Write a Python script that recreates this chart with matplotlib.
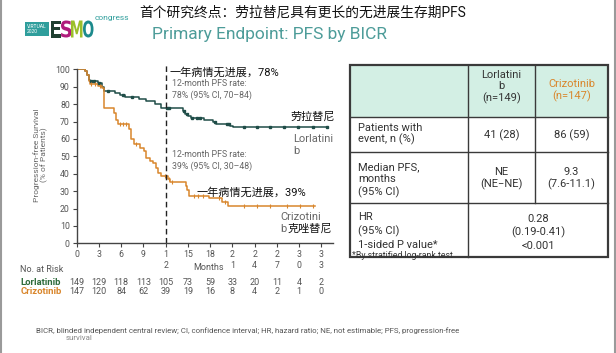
import numpy as np
import matplotlib
matplotlib.use('Agg')
import matplotlib.pyplot as plt
from matplotlib.patches import Rectangle, PathPatch
from matplotlib.transforms import blended_transform_factory, Affine2D
from matplotlib.textpath import TextPath
from matplotlib.font_manager import FontProperties

plt.rcParams['font.family'] = ['Roboto', 'Noto Sans CJK SC', 'DejaVu Sans']

W, H = 616, 353

# ---------------- data ----------------
lor_t = [0, 1.1, 1.35, 1.6, 1.8, 2.9, 3.4, 3.7, 5.2, 5.8, 6.5, 8.4, 9.3, 10.6, 11.4,
         13.2, 14.3, 14.6, 15.0, 15.4, 17.2, 18.4, 18.8, 20.7, 21.1]
lor_s = [100, 99, 97, 94, 93, 92, 90, 87.5, 86.5, 85.5, 84, 83, 82, 80, 78,
         77.5, 76, 74.5, 73, 72, 71, 69.5, 68.5, 67.5, 66.7]
lor_end = 33.8
lor_cens = [1.9, 2.3, 3.0, 4.2, 6.2, 7.4, 12.2, 12.5, 14.4, 14.9, 15.6, 16.2, 16.6,
            18.6, 20.3, 20.5, 22.5, 24.3, 26.1, 27.9, 29.9, 31.9, 33.7]

criz_t = [0, 1.1, 1.35, 1.6, 1.8, 2.9, 3.4, 3.7, 5.0, 5.3, 5.6, 7.1, 7.3, 7.7, 8.6,
          9.1, 9.4, 9.9, 10.3, 10.7, 11.0, 11.4, 12.3, 12.6, 14.7, 14.9, 15.2, 17.8,
          19.6, 20.4]
criz_s = [100, 99, 97, 93, 91.5, 90.5, 89.5, 78, 75, 71, 68.5, 65.5, 60, 57, 55,
          53, 49, 47.5, 46, 43.5, 40.5, 38.5, 37, 35, 33, 30.5, 27.5, 26,
          24, 21.5]
criz_end = 32.1
criz_cens = [1.9, 2.5, 3.2, 5.8, 6.3, 6.7, 8.0, 11.9, 12.4, 12.8, 15.8, 16.3, 17.0,
             19.2, 20.0, 22.5, 24.3, 26.1, 28.3, 30.1, 31.9]

xticks = [0, 3, 6, 9, 12, 15, 18, 21, 24, 27, 30, 33]
xtick_labels = ['0', '3', '6', '9', '1\n2', '15', '18', '2\n1', '2\n4', '2\n7', '3\n0', '3\n3']
yticks = [0, 10, 20, 30, 40, 50, 60, 70, 80, 90, 100]

risk_lor = [149, 129, 118, 113, 105, 73, 59, 33, 20, 11, 4, 2]
risk_criz = [147, 120, 84, 62, 39, 19, 16, 8, 4, 2, 1, 0]

tbl_header = ['', 'Lorlatini\nb\n(n=149)', 'Crizotinib\n(n=147)']
tbl_row_labels = ['Patients with\nevent, n (%)', 'Median PFS,\nmonths\n(95% CI)',
                  'HR\n(95% CI)\n1-sided P value*']
tbl_lor = ['41 (28)', 'NE\n(NE\u2212NE)']
tbl_criz = ['86 (59)', '9.3\n(7.6-11.1)']
tbl_hr = '0.28\n(0.19-0.41)\n<0.001'

TEAL = '#1f4d48'
ORANGE = '#d9862c'
GRAY = '#666666'

def step_at(t, s, x):
    i = np.searchsorted(t, x, side='right') - 1
    return np.asarray(s)[i]

fig = plt.figure(figsize=(W / 100, H / 100), dpi=100)
fig.patch.set_facecolor('white')

# ---------------- KM axes ----------------
x0, x1, yb, yt = 76.7, 332.6, 243.4, 69.3
ax = fig.add_axes([x0 / W, 1 - yb / H, (x1 - x0) / W, (yb - yt) / H])
ax.set_xlim(0, 34.5)
ax.set_ylim(0, 100)
for sp in ['top', 'right']:
    ax.spines[sp].set_visible(False)
for sp in ['left', 'bottom']:
    ax.spines[sp].set_color('#444444')
    ax.spines[sp].set_linewidth(1.0)
ax.set_xticks(xticks)
ax.set_xticklabels(xtick_labels, linespacing=1.25)
ax.set_yticks(yticks)
ax.tick_params(axis='both', labelsize=6.3, labelcolor='#555555', color='#444444',
               length=3, width=0.8, pad=2)
for lbl in ax.get_xticklabels():
    lbl.set_verticalalignment('top')

ax.step(lor_t + [lor_end], lor_s + [lor_s[-1]], where='post', color=TEAL, lw=1.1)
ax.step(criz_t + [criz_end], criz_s + [criz_s[-1]], where='post', color=ORANGE, lw=1.1)
ax.plot(lor_cens, step_at(lor_t, lor_s, lor_cens), ls='none', marker='s', ms=1.7,
        color=TEAL, clip_on=False)
ax.plot(criz_cens, step_at(criz_t, criz_s, criz_cens), ls='none', marker='|', ms=3.5,
        mew=0.8, color=ORANGE, clip_on=False)
ax.plot([12, 12], [0, 102.5], ls=(0, (4, 2.5)), color='#222222', lw=1.0, clip_on=False)

# at-risk numbers
tr = blended_transform_factory(ax.transData, fig.transFigure)
for x, a, b in zip(xticks, risk_lor, risk_criz):
    ax.text(x, 1 - 282.5 / H, str(a), transform=tr, ha='center', va='center',
            fontsize=6.5, color='#555555')
    ax.text(x, 1 - 292.0 / H, str(b), transform=tr, ha='center', va='center',
            fontsize=6.5, color='#555555')

# ---------------- overlay (pixel coords) ----------------
ov = fig.add_axes([0, 0, 1, 1])
ov.set_xlim(0, W)
ov.set_ylim(H, 0)
ov.axis('off')
ov.patch.set_alpha(0)

# frame lines
ov.plot([1.2, 1.2], [0, H], color='#9a9a9a', lw=1.5)
ov.plot([614.5, 614.5], [0, H], color='#9a9a9a', lw=1.5)

# logo
ov.add_patch(Rectangle((25, 22), 24, 13.5, color='#2f9e9c', lw=0))
ov.text(26.5, 28.8, 'VIRTUAL\n2020', fontsize=3.6, color='white', va='center', ha='left',
        linespacing=1.0)
fp = FontProperties(family='DejaVu Sans', weight='bold')
for ch, lx, col in [('E', 50.5, '#1f3f30'), ('S', 61, '#b01c7c'), ('M', 71, '#9bbf2a'),
                    ('O', 83, '#1c8a8c')]:
    tp = TextPath((0, 0), ch, size=1, prop=fp)
    ext = tp.get_extents()
    tw = 10.5 if ch != 'M' else 11.5
    sx = tw / ext.width
    sy = 17.0 / ext.height
    trf = Affine2D().translate(-ext.x0, -ext.y0).scale(sx, -sy).translate(lx, 37.5)
    ov.add_patch(PathPatch(trf.transform_path(tp), color=col, lw=0))
ov.text(95, 18, 'congress', fontsize=6, color='#2f9e9c', va='center', ha='left')

# titles
ov.text(139, 12, '首个研究终点：劳拉替尼具有更长的无进展生存期PFS', fontsize=9.9,
        color='#111111', va='center', ha='left')
ov.text(152, 34, 'Primary Endpoint: PFS by BICR', fontsize=12.5, color='#4d9c99',
        va='center', ha='left')

# y label
ov.text(40.5, 155, 'Progression-free Survival\n(% of Patients)', rotation=90,
        fontsize=6, color=GRAY, ha='center', va='center', linespacing=1.1)

# annotations on the KM plot
ov.text(170, 72, '一年病情无进展，78%', fontsize=8, color='#111111', va='center')
ov.text(172, 89.5, '12-month PFS rate:\n78% (95% CI, 70\u201384)', fontsize=6.3,
        color=GRAY, va='center', linespacing=1.25)
ov.text(290, 117, '劳拉替尼', fontsize=8, color='#111111', va='center')
ov.text(293, 145, 'Lorlatini\nb', fontsize=8, color=GRAY, va='center', linespacing=1.35)
ov.text(172, 160.5, '12-month PFS rate:\n39% (95% CI, 30\u201348)', fontsize=6.3,
        color=GRAY, va='center', linespacing=1.25)
ov.text(197, 192, '一年病情无进展，39%', fontsize=8, color='#111111', va='center')
ov.text(280, 217, 'Crizotini', fontsize=8, color=GRAY, va='center')
ov.text(280, 228.5, 'b', fontsize=8, color=GRAY, va='center')
ov.text(288, 228.5, '克唑替尼', fontsize=8, color='#111111', va='center')

# x label & risk table labels
ov.text(209, 268, 'Months', fontsize=6.5, color='#555555', ha='center', va='center')
ov.text(20.5, 269.5, 'No. at Risk', fontsize=6.5, color='#555555', va='center')
ov.text(20.5, 282.5, 'Lorlatinib', fontsize=6.8, color='#2e6b3b', va='center',
        fontweight='bold')
ov.text(20.5, 292.0, 'Crizotinib', fontsize=6.8, color=ORANGE, va='center',
        fontweight='bold')

# footnote
ov.text(36, 330.5, 'BICR, blinded independent central review; CI, confidence interval; '
        'HR, hazard ratio; NE, not estimable; PFS, progression-free', fontsize=5.7,
        color='#555555', va='center')
ov.text(66, 338, 'survival', fontsize=5.7, color='#888888', va='center')

# ---------------- table ----------------
cx = [350, 468, 535, 608]
ry = [65, 116.7, 152.3, 203.3, 257]
ov.add_patch(Rectangle((cx[0], ry[0]), cx[3] - cx[0], ry[1] - ry[0], color='#d3efe4',
                       lw=0))
lc = '#3a3a3a'
for y in ry[1:-1]:
    ov.plot([cx[0], cx[3]], [y, y], color=lc, lw=1.0)
for x in cx[1:-1]:
    ov.plot([x, x], [ry[0], ry[3]], color=lc, lw=1.0)
ov.plot([cx[1], cx[1]], [ry[3], ry[4]], color=lc, lw=1.0)
ov.add_patch(Rectangle((cx[0], ry[0]), cx[3] - cx[0], ry[4] - ry[0], fill=False,
                       ec=lc, lw=1.6))

ov.text((cx[1] + cx[2]) / 2, 87, tbl_header[1], fontsize=8, color='#333333',
        ha='center', va='center', linespacing=1.1)
ov.text((cx[2] + cx[3]) / 2, 90.5, tbl_header[2], fontsize=8, color=ORANGE,
        ha='center', va='center', linespacing=1.15)
row_cy = [134, 180, 231]
row_ls = [1.1, 1.25, 1.4]
for lbl, yc, ls in zip(tbl_row_labels, row_cy, row_ls):
    ov.text(358, yc, lbl, fontsize=8, color='#333333', ha='left', va='center',
            linespacing=ls)
val_cy = [135, 178.5]
for a, b, yc in zip(tbl_lor, tbl_criz, val_cy):
    ov.text((cx[1] + cx[2]) / 2, yc, a, fontsize=8, color='#333333', ha='center',
            va='center', linespacing=1.25)
    ov.text((cx[2] + cx[3]) / 2, yc, b, fontsize=8, color='#333333', ha='center',
            va='center', linespacing=1.25)
ov.text((cx[1] + cx[3]) / 2, 232.5, tbl_hr, fontsize=8, color='#333333', ha='center',
        va='center', linespacing=1.3)
ov.text(352, 256, '*By stratified log-rank test', fontsize=6.3, color='#333333',
        va='center', ha='left')

fig.savefig('out.png', dpi=100)
